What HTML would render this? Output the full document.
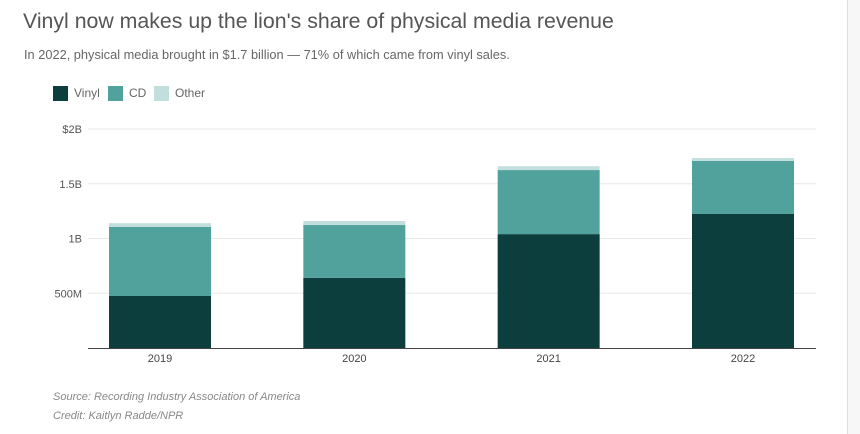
<!DOCTYPE html>
<html><head><meta charset="utf-8"><style>
body{margin:0;width:860px;height:434px;background:#fff;font-family:"Liberation Sans",sans-serif;position:relative;overflow:hidden}
.t{position:absolute;white-space:nowrap}
</style></head><body>
<div style="position:absolute;left:847px;top:0;width:13px;height:434px;background:#f7f7f7;border-left:1px solid #ddd"></div>
<div class="t" style="left:23px;top:9px;font-size:21.3px;color:#555">Vinyl now makes up the lion's share of physical media revenue</div>
<div class="t" style="left:24px;top:47px;font-size:12.8px;color:#666">In 2022, physical media brought in $1.7 billion — 71% of which came from vinyl sales.</div>
<div style="position:absolute;left:53px;top:86px;font-size:12px;color:#666">
<span style="position:absolute;left:0;top:0;width:15px;height:15px;background:#0b3e3c"></span><span class="t" style="left:21px;top:0">Vinyl</span>
<span style="position:absolute;left:55px;top:0;width:15px;height:15px;background:#51a19c"></span><span class="t" style="left:76px;top:0">CD</span>
<span style="position:absolute;left:101px;top:0;width:15px;height:15px;background:#c2dfdd"></span><span class="t" style="left:122px;top:0">Other</span>
</div>
<svg id="c" width="860" height="434" style="position:absolute;left:0;top:0" font-family="Liberation Sans, sans-serif"></svg>
<div class="t" style="left:53px;top:391px;font-size:11px;color:#888;font-style:italic">Source: Recording Industry Association of America</div>
<div class="t" style="left:53px;top:410px;font-size:11px;color:#888;font-style:italic">Credit: Kaitlyn Radde/NPR</div>
<script>
const years=["2019","2020","2021","2022"];
const vinyl=[0.475,0.64,1.04,1.224];
const cd=[0.63,0.483,0.585,0.484];
const other=[0.035,0.037,0.035,0.027];
const ticks=[0,0.5,1,1.5,2];
const tickLabels=["","500M","1B","1.5B","$2B"];
const svg=document.getElementById('c');const NS="http://www.w3.org/2000/svg";
const y=v=>348-v*109.5;
const x=i=>109+i*194.33;
function mk(t,a){const e=document.createElementNS(NS,t);for(const k in a)e.setAttribute(k,a[k]);svg.appendChild(e);return e;}
ticks.forEach((t,i)=>{if(i>0){const l=mk('line',{x1:88,x2:816,y1:y(t),y2:y(t),stroke:'#e8e8e8'});


const tx=mk('text',{x:82,y:y(t)+4,'text-anchor':'end','font-size':11,fill:'#555'});tx.textContent=tickLabels[i];

}});
years.forEach((yr,i)=>{
 const segs=[[0,vinyl[i],'#0b3e3c','vinyl'],[vinyl[i],vinyl[i]+cd[i],'#51a19c','cd'],[vinyl[i]+cd[i],vinyl[i]+cd[i]+other[i],'#c2dfdd','other']];
 segs.forEach(s=>{const r=mk('rect',{x:x(i),width:102,y:y(s[1]),height:y(s[0])-y(s[1]),fill:s[2]});
 
 });
 const t=mk('text',{x:x(i)+51,y:362,'text-anchor':'middle','font-size':11,fill:'#444'});t.textContent=yr;
 
 
});
const ax=mk('line',{x1:88,x2:816,y1:348.5,y2:348.5,stroke:'#444'});


</script>
</body></html>
